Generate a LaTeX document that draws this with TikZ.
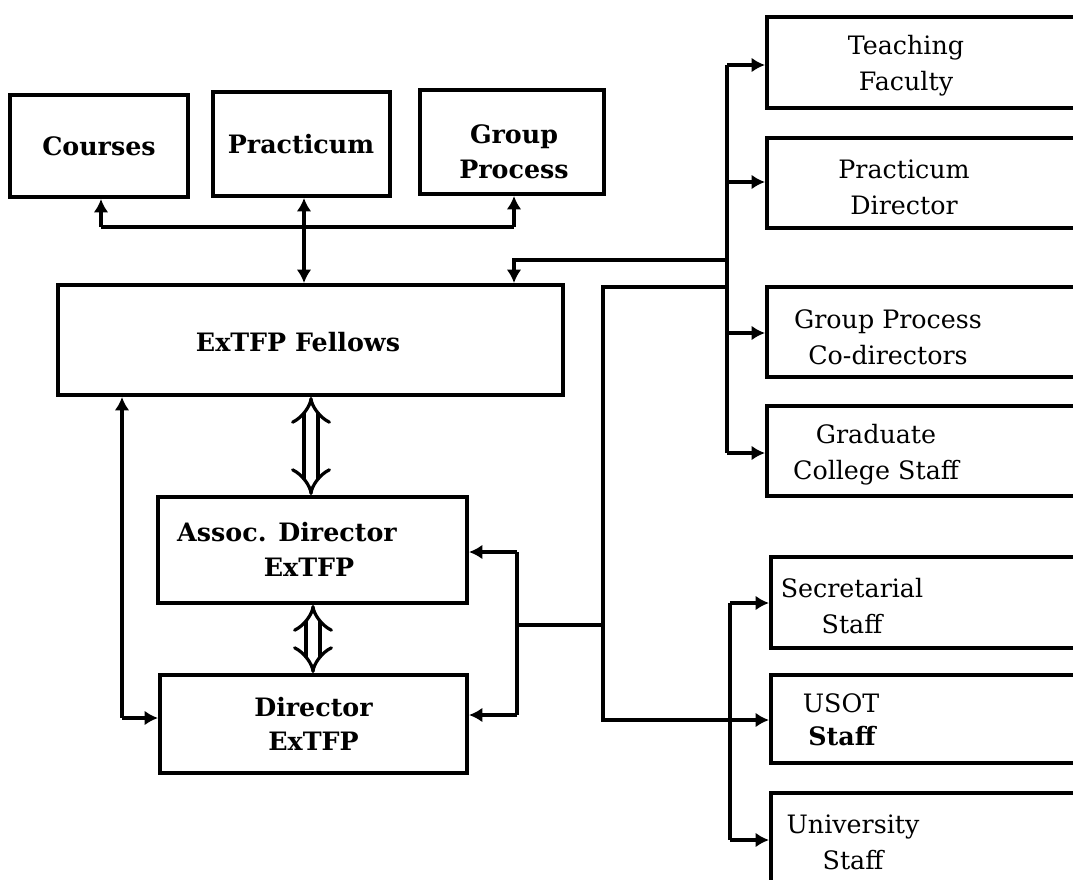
\documentclass[tikz,border=0pt]{standalone}
\usepackage{fontspec}
\setmainfont{DejaVu Serif}
\usetikzlibrary{arrows.meta}
\begin{document}
\begin{tikzpicture}[x=0.75pt,y=-0.75pt,
  box/.style={draw, line width=3pt, inner sep=0pt, align=center,
    font=\bfseries\fontsize{19}{26}\selectfont},
  rbox/.style={draw, line width=3pt, inner sep=0pt},
  rtext/.style={inner sep=0pt, align=center, font=\fontsize{19}{27}\selectfont},
  btext/.style={inner sep=0pt, align=center, font=\bfseries\fontsize{19}{26}\selectfont},
  conn/.style={line width=3pt},
  arr/.style={line width=3pt, -{Latex[length=10pt,width=11pt]}},
  darr/.style={line width=2.4pt, double distance=8pt, {Implies}-{Implies}}]
\useasboundingbox (0,0) rectangle (1073,879);
\fill[white] (0,0) rectangle (1073,879);
\clip (0,0) rectangle (1073,879);

% left / top boxes
\node[box, minimum width=178*0.75pt, minimum height=102*0.75pt] (courses) at (99,146) {Courses};
\node[box, minimum width=177*0.75pt, minimum height=104*0.75pt] (pract) at (301,144) {Practicum};
\node[box, minimum width=184*0.75pt, minimum height=104*0.75pt] (group) at (512,142) {};
\node[btext] (groupT) at (514,152) {Group\\Process};
\node[box, minimum width=505*0.75pt, minimum height=110*0.75pt] (fellows) at (310,340) {};
\node[btext] (fellowsT) at (298,342) {ExTFP Fellows};
\node[box, minimum width=309*0.75pt, minimum height=106*0.75pt] (assoc) at (312.5,550) {};
\node[btext] (assocA) at (287,532) {Assoc. Director};
\node[btext] (assocB) at (309,567) {ExTFP};
\node[box, minimum width=307*0.75pt, minimum height=98*0.75pt] (director) at (313.5,724) {Director\\ExTFP};

% right boxes (cut off at the right edge)
\node[rbox, minimum width=353*0.75pt, minimum height=91*0.75pt] (tf) at (943.5,62.5) {};
\node[rbox, minimum width=353*0.75pt, minimum height=90*0.75pt] (pd) at (943.5,183) {};
\node[rbox, minimum width=353*0.75pt, minimum height=90*0.75pt] (gp) at (943.5,332) {};
\node[rbox, minimum width=353*0.75pt, minimum height=90*0.75pt] (gc) at (943.5,451) {};
\node[rbox, minimum width=349*0.75pt, minimum height=91*0.75pt] (ss) at (945.5,602.5) {};
\node[rbox, minimum width=349*0.75pt, minimum height=88*0.75pt] (us) at (945.5,719) {};
\node[rbox, minimum width=349*0.75pt, minimum height=142*0.75pt] (un) at (945.5,864) {};

\node[rtext] (tfT) at (906,66) {Teaching\\Faculty};
\node[rtext] (pdT) at (904,187) {Practicum\\Director};
\node[rtext] (gpT) at (888,337) {Group Process\\Co-directors};
\node[rtext] (gcT) at (876,455) {Graduate\\College Staff};
\node[rtext] (ssT) at (852,606) {Secretarial\\Staff};
\node[rtext] (usA) at (841,703) {USOT};
\node[btext] (usB) at (842,736) {Staff};
\node[rtext] (unT) at (853,842) {University\\Staff};

% top connectors
\coordinate (cA) at (101,227);
\coordinate (pA) at (304,227);
\coordinate (gA) at (514,227);
\draw[conn] (cA) -- (gA);
\draw[arr] (cA) -- (courses.south -| cA);
\draw[arr] (pA) -- (pract.south -| pA);
\draw[arr] (gA) -- (group.south -| gA);
\draw[arr] (pA) -- (fellows.north -| pA);

% upper right trunk
\coordinate (b1) at (727,65);
\coordinate (b2) at (727,182);
\coordinate (b3) at (727,333);
\coordinate (b4) at (727,453);
\coordinate (jU) at (727,260);
\coordinate (t1) at (514,260);
\draw[conn] (b1) -- (b4);
\draw[arr] (b1) -- (b1 -| tf.west);
\draw[arr] (b2) -- (b2 -| pd.west);
\draw[arr] (b3) -- (b3 -| gp.west);
\draw[arr] (b4) -- (b4 -| gc.west);
\draw[arr] (jU) -- (t1) -- (fellows.north -| t1);

% middle line down to USOT
\coordinate (jM) at (727,287);
\coordinate (m1) at (603,287);
\coordinate (m2) at (603,720);
\draw[arr] (jM) -- (m1) -- (m2) -- (m2 -| us.west);

% lower right trunk
\coordinate (l1) at (730,603);
\coordinate (l3) at (730,840);
\draw[conn] (l1) -- (l3);
\draw[arr] (l1) -- (l1 -| ss.west);
\draw[arr] (l3) -- (l3 -| un.west);

% assoc / director right side
\coordinate (r1) at (517,552);
\coordinate (r2) at (517,715);
\coordinate (r3) at (517,625);
\draw[conn] (r1) -- (r2);
\draw[arr] (r1) -- (r1 -| assoc.east);
\draw[arr] (r2) -- (r2 -| director.east);
\draw[conn] (r3) -- (r3 -| m1);

% left side
\coordinate (lf1) at (122,718);
\draw[arr] (lf1) -- (fellows.south -| lf1);
\draw[arr] (lf1) -- (lf1 -| director.west);

% double arrows
\coordinate (d1) at (311,0);
\coordinate (d2) at (313,0);
\draw[darr] (fellows.south -| d1) -- (assoc.north -| d1);
\draw[darr] (assoc.south -| d2) -- (director.north -| d2);
\end{tikzpicture}
\end{document}
